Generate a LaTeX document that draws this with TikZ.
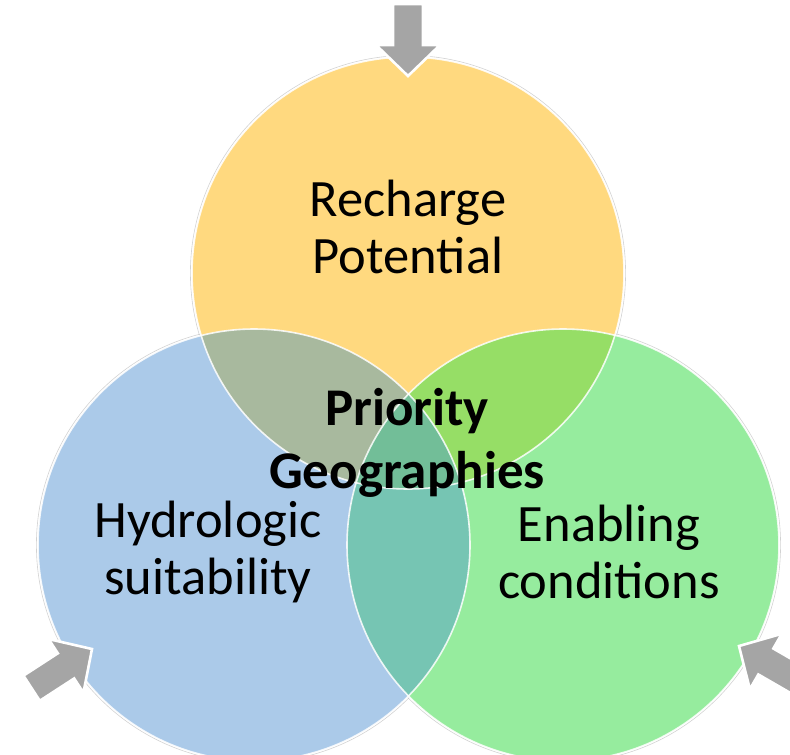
\documentclass[tikz,border=0pt]{standalone}
\usepackage{fontspec}
\setmainfont{Carlito}
\begin{document}
\begin{tikzpicture}[x=1pt,y=-1pt,
  ring/.style={draw=white, line width=1.6pt, draw opacity=0.85},
  halo/.style={draw=black!35, line width=0.6pt, draw opacity=0.5},
  label/.style={align=center, inner sep=0pt, font=\fontsize{52.5}{57}\selectfont},
  centrelabel/.style={align=center, inner sep=0pt, font=\bfseries\fontsize{53}{63}\selectfont},
  blockarrow/.style={fill=arrowgray, draw=white, line width=2.6pt, line join=miter}
]
\definecolor{recharge}{HTML}{FFD97F}
\definecolor{hydro}{HTML}{ABCAE9}
\definecolor{enable}{HTML}{96EC9E}
\definecolor{recHydro}{HTML}{A8B99E}
\definecolor{recEnable}{HTML}{96DE66}
\definecolor{hydroEnable}{HTML}{76C5B3}
\definecolor{allThree}{HTML}{72BE98}
\definecolor{arrowgray}{HTML}{A5A5A5}

\useasboundingbox (0,0) rectangle (790,755);
\fill[white] (0,0) rectangle (790,755);

\def\rad{216}
\coordinate (cR) at (408,273);
\coordinate (cH) at (254,545);
\coordinate (cE) at (563,545);

% soft outer edge
\draw[halo] (cR) circle (\rad+1.6);
\draw[halo] (cH) circle (\rad+1.6);
\draw[halo] (cE) circle (\rad+1.6);

% base discs
\fill[recharge] (cR) circle (\rad);
\fill[hydro] (cH) circle (\rad);
\fill[enable] (cE) circle (\rad);

% pairwise overlaps
\begin{scope}
  \clip (cR) circle (\rad);
  \fill[recHydro] (cH) circle (\rad);
  \fill[recEnable] (cE) circle (\rad);
\end{scope}
\begin{scope}
  \clip (cH) circle (\rad);
  \fill[hydroEnable] (cE) circle (\rad);
  \clip (cE) circle (\rad);
  \fill[allThree] (cR) circle (\rad);
\end{scope}

% white rims
\draw[ring] (cR) circle (\rad);
\draw[ring] (cH) circle (\rad);
\draw[ring] (cE) circle (\rad);

% block arrows pointing at the discs
\newcommand{\blockarr}[2]{%
  \begin{scope}[shift={#1}, rotate=#2]
    \draw[blockarrow] (0,0) -- (-31,-32) -- (-31,-15) -- (-72,-15)
      -- (-72,15) -- (-31,15) -- (-31,32) -- cycle;
  \end{scope}}
\blockarr{(408,76)}{-90}
\blockarr{(92,649)}{33}
\blockarr{(739,646)}{150}

% labels
\node[label] (rp) at (408,227) {Recharge\\Potential};
\node[label] (hs) at (208,552) {Hydrologic\\suitability};
\node[label] (ec) at (609,552) {Enabling\\conditions};
\node[centrelabel] (pg) at (407,443) {Priority\\Geographies};
\end{tikzpicture}
\end{document}
